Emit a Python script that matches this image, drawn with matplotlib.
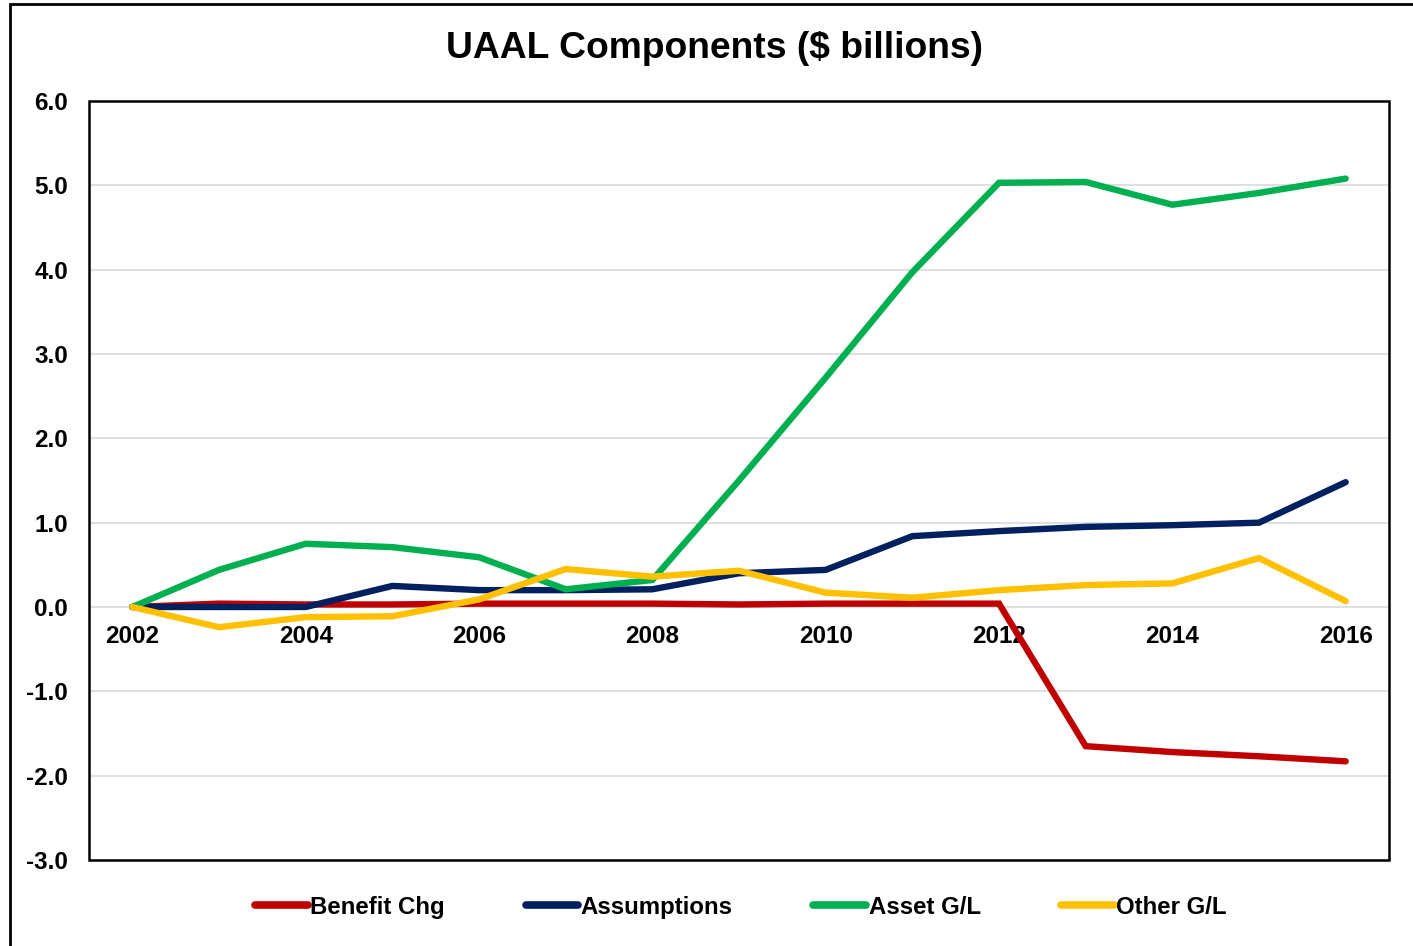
import matplotlib
matplotlib.use("Agg")
import matplotlib.pyplot as plt
from matplotlib.patches import Rectangle

plt.rcParams['font.family'] = ['Liberation Sans', 'DejaVu Sans']
plt.rcParams['font.weight'] = 'bold'

years = list(range(2002, 2017))
benefit_chg = [0.0, 0.04, 0.03, 0.03, 0.04, 0.04, 0.04, 0.03, 0.04, 0.04, 0.04, -1.65, -1.72, -1.77, -1.83]
assumptions = [0.0, 0.0, 0.0, 0.25, 0.2, 0.2, 0.21, 0.4, 0.44, 0.84, 0.9, 0.95, 0.97, 1.0, 1.48]
asset_gl = [0.0, 0.44, 0.75, 0.71, 0.59, 0.21, 0.32, 1.5, 2.72, 3.97, 5.03, 5.04, 4.77, 4.91, 5.08]
other_gl = [0.0, -0.24, -0.12, -0.11, 0.09, 0.45, 0.36, 0.43, 0.17, 0.11, 0.2, 0.26, 0.28, 0.58, 0.07]

series = [
    ("Benefit Chg", benefit_chg, "#C00000"),
    ("Assumptions", assumptions, "#002060"),
    ("Asset G/L", asset_gl, "#00B050"),
    ("Other G/L", other_gl, "#FFC000"),
]
xtick_labels = [str(y) for y in range(2002, 2017, 2)]
yticks = [-3.0, -2.0, -1.0, 0.0, 1.0, 2.0, 3.0, 4.0, 5.0, 6.0]

W, H = 1413, 946
fig = plt.figure(figsize=(W / 100, H / 100), dpi=100)
ax = fig.add_axes([89 / W, 1 - 860 / H, 1300 / W, 759 / H])

# outer frame
fig.patches.append(Rectangle((10 / W, -0.05), 1.1, 1 - 4 / H + 0.05, transform=fig.transFigure,
                             fill=False, edgecolor='black', linewidth=2, zorder=0))

for name, vals, col in series:
    ax.plot(years, vals, color=col, linewidth=4.6, label=name, solid_capstyle='round',
            solid_joinstyle='miter', zorder=3)

ax.set_xlim(2001.5, 2016.5)
ax.set_ylim(-3, 6)
ax.spines['bottom'].set_position(('data', 0))
ax.spines['bottom'].set_visible(False)
for s in ['top', 'left', 'right']:
    ax.spines[s].set_visible(False)

ax.set_yticks(yticks)
ax.set_yticklabels([f"{v:.1f}" for v in yticks])
ax.yaxis.grid(True, color='#D9D9D9', linewidth=1.2, zorder=0)
ax.set_axisbelow(True)

ax.set_xticks(list(range(2002, 2017, 2)))
ax.set_xticklabels(xtick_labels)
ax.tick_params(axis='x', length=0, pad=13, labelsize=17.5)
ax.tick_params(axis='y', length=0, pad=15, labelsize=17.5)
for lab in ax.get_xticklabels() + ax.get_yticklabels():
    lab.set_fontweight('bold')

ax.add_patch(Rectangle((0, 0), 1, 1, transform=ax.transAxes, fill=False,
                       edgecolor='black', linewidth=1.8, clip_on=False, zorder=5))

fig.text(714 / W, 1 - 49 / H, "UAAL Components ($ billions)", ha='center', va='center',
         fontsize=26.8, fontweight='bold')

leg = fig.legend(loc='center', bbox_to_anchor=(741 / W, 1 - 907 / H), ncol=4, frameon=False,
                 fontsize=17.3, handlelength=2.2, handletextpad=0.1, columnspacing=3.35)
for t in leg.get_texts():
    t.set_fontweight('bold')
for l in leg.get_lines():
    l.set_linewidth(5.5)

fig.savefig("out.png", dpi=100)
